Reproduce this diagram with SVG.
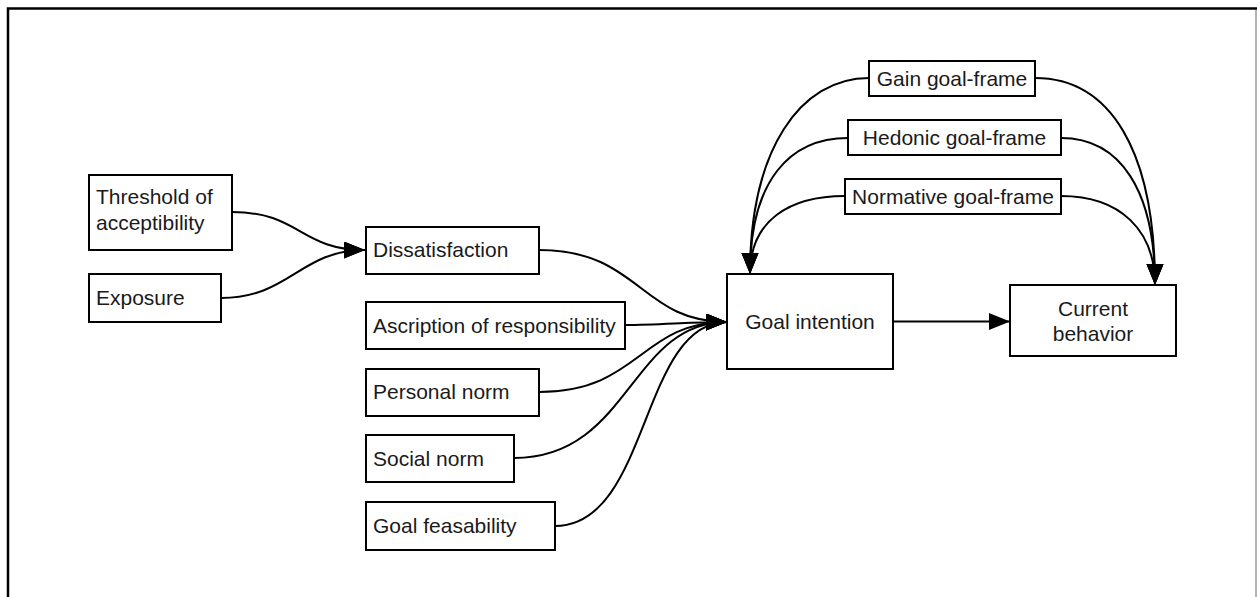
<svg xmlns="http://www.w3.org/2000/svg" width="1257" height="597" viewBox="0 0 1257 597">
<defs>
<style>
.box{fill:#fff;stroke:#000;stroke-width:2}
.t{font-family:"Liberation Sans",Arial,sans-serif;font-size:21px;fill:#1a1a1a}
.m{text-anchor:middle}
.c{fill:none;stroke:#000;stroke-width:2}
</style>
<marker id="ah" markerUnits="userSpaceOnUse" markerWidth="22" markerHeight="18" refX="21" refY="8.5" orient="auto" viewBox="0 0 22 18">
<path d="M0,0 L21,8.5 L0,17 z" fill="#000"/>
</marker>
</defs>
<rect width="1257" height="597" fill="#fff"/>
<path d="M8,597 L8,8.5 L1257,8.5" fill="none" stroke="#000" stroke-width="2.5"/>
<line x1="1256" y1="10" x2="1256" y2="597" stroke="#999" stroke-width="1.5"/>
<g id="connectors">
<path class="c" d="M232,212 C300,212 300,250 365,250" marker-end="url(#ah)"/>
<path class="c" d="M221,298 C290,298 300,250 365,250" marker-end="url(#ah)"/>
<path class="c" d="M539,250 C640,250 640,322 727,322" marker-end="url(#ah)"/>
<path class="c" d="M625,325 C660,325 690,322 727,322" marker-end="url(#ah)"/>
<path class="c" d="M539,392 C640,392 640,322 727,322" marker-end="url(#ah)"/>
<path class="c" d="M514,458 C630,458 630,322 727,322" marker-end="url(#ah)"/>
<path class="c" d="M555,526 C650,526 640,322 727,322" marker-end="url(#ah)"/>
<path class="c" d="M893,321.5 L1010,321.5" marker-end="url(#ah)"/>
<path class="c" d="M869,78 C800,78 750,150 750,274" marker-end="url(#ah)"/>
<path class="c" d="M848,138 C790,138 750,180 750,274" marker-end="url(#ah)"/>
<path class="c" d="M845,196 C790,196 750,220 750,274" marker-end="url(#ah)"/>
<path class="c" d="M1035,78 C1110,78 1155,150 1155,285" marker-end="url(#ah)"/>
<path class="c" d="M1061,138 C1120,138 1155,190 1155,285" marker-end="url(#ah)"/>
<path class="c" d="M1061,196 C1120,196 1155,230 1155,285" marker-end="url(#ah)"/>
</g>
<g id="threshold"><rect class="box" x="89" y="175" width="143" height="75"/><text class="t" x="96" y="204">Threshold of</text><text class="t" x="96" y="230">acceptibility</text></g>
<g id="exposure"><rect class="box" x="89" y="274" width="132" height="48"/><text class="t" x="96" y="305">Exposure</text></g>
<g id="dissatisfaction"><rect class="box" x="366" y="227" width="173" height="47"/><text class="t" x="373" y="257">Dissatisfaction</text></g>
<g id="ascription"><rect class="box" x="366" y="302" width="259" height="47"/><text class="t" x="373" y="333">Ascription of responsibility</text></g>
<g id="personal"><rect class="box" x="366" y="369" width="173" height="47"/><text class="t" x="373" y="399">Personal norm</text></g>
<g id="social"><rect class="box" x="366" y="435" width="148" height="47"/><text class="t" x="373" y="466">Social norm</text></g>
<g id="feasability"><rect class="box" x="366" y="502" width="189" height="48"/><text class="t" x="373" y="533">Goal feasability</text></g>
<g id="goal-intention"><rect class="box" x="727" y="274" width="166" height="95"/><text class="t m" x="810" y="329">Goal intention</text></g>
<g id="current-behavior"><rect class="box" x="1010" y="285" width="166" height="71"/><text class="t m" x="1093" y="316">Current</text><text class="t m" x="1093" y="341">behavior</text></g>
<g id="gain"><rect class="box" x="869" y="61" width="166" height="35"/><text class="t m" x="952" y="86">Gain goal-frame</text></g>
<g id="hedonic"><rect class="box" x="848" y="120" width="213" height="35"/><text class="t m" x="954.5" y="145">Hedonic goal-frame</text></g>
<g id="normative"><rect class="box" x="845" y="179" width="216" height="35"/><text class="t m" x="953" y="204">Normative goal-frame</text></g>
</svg>
